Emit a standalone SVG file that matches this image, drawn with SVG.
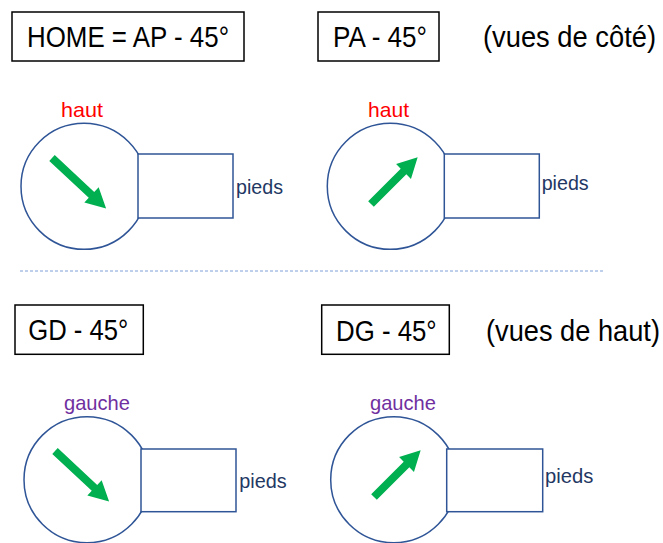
<svg xmlns="http://www.w3.org/2000/svg" width="663" height="543" viewBox="0 0 663 543">
<style>
  .title { font-family: "Liberation Sans", Arial, sans-serif; font-size: 29px; fill: #000; }
  .box { fill: #fff; stroke: #000; stroke-width: 1.5; }
  .head { fill: #fff; stroke: #2F5597; stroke-width: 1.5; }
  .lbl { font-family: "Liberation Sans", Arial, sans-serif; font-size: 21px; }
  .haut { fill: #FF0000; }
  .gauche { fill: #7030A0; }
  .pieds { fill: #1F3864; }
  .arrow { fill: #00B050; }
  .sep { stroke: #7F9FD8; stroke-width: 1; stroke-dasharray: 3 2; fill: none; }
</style>
<defs>
  <polygon id="arr66" points="0,-4 46,-4 46,-10.5 66,0 46,10.5 46,4 0,4"/>
  <polygon id="arr74" points="0,-4 54,-4 54,-10.5 74,0 54,10.5 54,4 0,4"/>
</defs>
<rect width="663" height="543" fill="#fff"/>

<g id="title-home">
  <rect class="box" x="12" y="12" width="232" height="49"/>
  <text class="title" x="27" y="46.5" textLength="202" lengthAdjust="spacingAndGlyphs">HOME = AP - 45°</text>
</g>
<g id="title-pa">
  <rect class="box" x="318" y="12" width="121" height="49"/>
  <text class="title" x="333" y="46.5" textLength="94" lengthAdjust="spacingAndGlyphs">PA - 45°</text>
</g>
<text id="note-cote" class="title" x="483" y="46.5" textLength="173" lengthAdjust="spacingAndGlyphs">(vues de côté)</text>

<g id="node-home">
  <circle class="head" cx="84" cy="186.3" r="63"/>
  <rect class="head" x="138" y="154" width="95" height="64"/>
  <use href="#arr74" class="arrow" transform="translate(52,158) rotate(43)"/>
  <text class="lbl haut" x="61" y="116.7" textLength="42" lengthAdjust="spacingAndGlyphs">haut</text>
  <text class="lbl pieds" x="236" y="194" textLength="47" lengthAdjust="spacingAndGlyphs">pieds</text>
</g>
<g id="node-pa">
  <circle class="head" cx="390.3" cy="186.3" r="63"/>
  <rect class="head" x="444.3" y="154" width="95" height="64"/>
  <use href="#arr66" class="arrow" transform="translate(371,204) rotate(-45)"/>
  <text class="lbl haut" x="368" y="116.7" textLength="41" lengthAdjust="spacingAndGlyphs">haut</text>
  <text class="lbl pieds" x="541.7" y="189.5" textLength="47" lengthAdjust="spacingAndGlyphs">pieds</text>
</g>

<g id="separator">
  <line class="sep" x1="20" y1="271" x2="603" y2="271"/>
</g>

<g id="title-gd">
  <rect class="box" x="15" y="305" width="128.3" height="49.3"/>
  <text class="title" x="28.3" y="340" textLength="100" lengthAdjust="spacingAndGlyphs">GD - 45°</text>
</g>
<g id="title-dg">
  <rect class="box" x="321.7" y="305" width="127.6" height="49.3"/>
  <text class="title" x="336" y="340.5" textLength="100.7" lengthAdjust="spacingAndGlyphs">DG - 45°</text>
</g>
<text id="note-haut" class="title" x="486" y="340.5" textLength="174" lengthAdjust="spacingAndGlyphs">(vues de haut)</text>

<g id="node-gd">
  <circle class="head" cx="87" cy="479.7" r="63"/>
  <rect class="head" x="141" y="449" width="95" height="62.7"/>
  <use href="#arr74" class="arrow" transform="translate(55,451) rotate(43)"/>
  <text class="lbl gauche" x="64" y="410" textLength="66" lengthAdjust="spacingAndGlyphs">gauche</text>
  <text class="lbl pieds" x="239.3" y="488" textLength="47.4" lengthAdjust="spacingAndGlyphs">pieds</text>
</g>
<g id="node-dg">
  <circle class="head" cx="393.7" cy="479.7" r="63"/>
  <rect class="head" x="446.7" y="449" width="96" height="62.7"/>
  <use href="#arr66" class="arrow" transform="translate(374,497) rotate(-45)"/>
  <text class="lbl gauche" x="370" y="410" textLength="66" lengthAdjust="spacingAndGlyphs">gauche</text>
  <text class="lbl pieds" x="545" y="482.7" textLength="48.3" lengthAdjust="spacingAndGlyphs">pieds</text>
</g>
</svg>
